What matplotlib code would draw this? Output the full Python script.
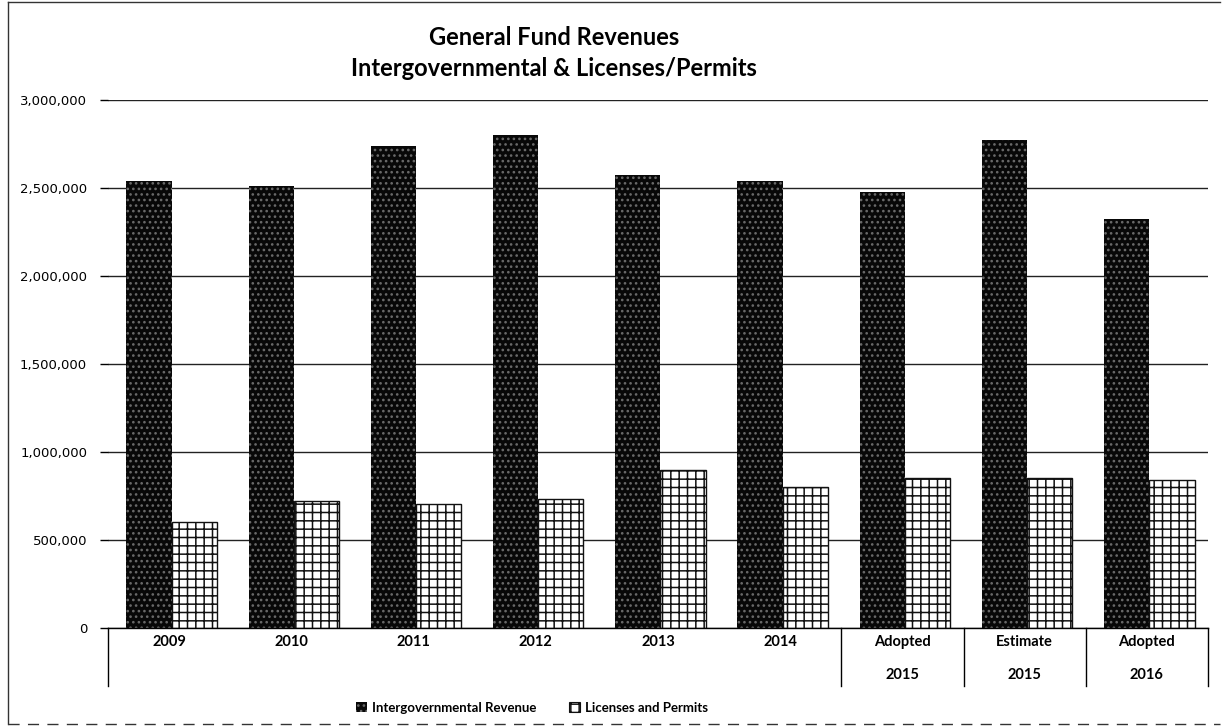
import matplotlib
matplotlib.use("Agg")
import matplotlib.pyplot as plt
from matplotlib.lines import Line2D
from matplotlib.patches import Patch
import numpy as np

plt.rcParams['hatch.linewidth'] = 1.1

# ---- data ----
level1 = ["2009", "2010", "2011", "2012", "2013", "2014", "Adopted", "Estimate", "Adopted"]
level2 = ["", "", "", "", "", "", "2015", "2015", "2016"]
intergov = [2540000, 2512000, 2740000, 2802000, 2574000, 2538000, 2480000, 2773000, 2322000]
licenses = [604000, 723000, 705000, 735000, 898000, 800000, 852000, 852000, 840000]
yticks = [0, 500000, 1000000, 1500000, 2000000, 2500000, 3000000]
title = "General Fund Revenues\nIntergovernmental & Licenses/Permits"
series_names = ["Intergovernmental Revenue", "Licenses and Permits"]

W, H = 1225, 728
fig = plt.figure(figsize=(W / 100, H / 100), dpi=100)
ax = fig.add_axes([108 / W, 1 - 628 / H, (1208 - 108) / W, (628 - 100) / H])

x = np.arange(len(level1))
bw = 0.37
ax.bar(x - bw / 2 + 0.02, intergov, width=bw, color="#080808", edgecolor="#6a6a6a",
       hatch="...", linewidth=0, zorder=3)
ax.bar(x + bw / 2 + 0.02, licenses, width=bw, color="white", edgecolor="#111111",
       hatch="++", linewidth=1.0, zorder=3)

ax.set_xlim(-0.5, len(level1) - 0.5)
ax.set_ylim(0, 3000000)
ax.set_yticks(yticks)
ax.set_yticklabels([f"{v:,}" for v in yticks], fontsize=9.5, family="DejaVu Sans")
ax.tick_params(axis="y", length=6, width=1, pad=9, colors="black")
ax.set_xticks([])
ax.yaxis.grid(True, color="#222222", linewidth=1.0, zorder=0)
for s in ["left", "right", "top"]:
    ax.spines[s].set_visible(False)
ax.spines["bottom"].set_linewidth(1.0)
ax.spines["bottom"].set_zorder(4)

# category table below the axis
trans = ax.get_xaxis_transform()
axh = 628 - 100
def dy(px):
    return -px / axh
for i, (a, b) in enumerate(zip(level1, level2)):
    ax.text(i, dy(14), a, transform=trans, ha="center", va="center",
            fontsize=10.5, family="Lato", fontweight="bold")
    if b:
        ax.text(i, dy(47), b, transform=trans, ha="center", va="center",
                fontsize=10.5, family="Lato", fontweight="bold")
for xb in [-0.5, 5.5, 6.5, 7.5, 8.5]:
    ax.add_line(Line2D([xb, xb], [0, dy(58)], transform=trans, color="black",
                       linewidth=1.0, clip_on=False))

fig.suptitle(title, x=554 / W, y=1 - 26 / H, va="top", fontsize=17, family="Lato",
             fontweight="bold", linespacing=1.4)

handles = [Patch(facecolor="#080808", edgecolor="#6a6a6a", hatch="...", linewidth=0),
           Patch(facecolor="white", edgecolor="#111111", hatch="++", linewidth=0.8)]
fig.legend(handles, series_names, loc="center", bbox_to_anchor=(532 / W, 1 - 708 / H),
           ncol=2, frameon=False, prop={"family": "Lato", "size": 9.5, "weight": "bold"},
           handlelength=0.8, handleheight=0.8, columnspacing=2.5, handletextpad=0.4)

# chart border
fig.add_artist(Line2D([8 / W, 1220 / W], [1 - 2 / H, 1 - 2 / H], transform=fig.transFigure,
                      color="#333333", linewidth=1))
fig.add_artist(Line2D([8 / W, 8 / W], [1 - 2 / H, 1 - 724 / H], transform=fig.transFigure,
                      color="#333333", linewidth=1))
fig.add_artist(Line2D([8 / W, 1220 / W], [1 - 724 / H, 1 - 724 / H], transform=fig.transFigure,
                      color="#333333", linewidth=1, linestyle=(0, (8, 6))))

fig.savefig("out.png", dpi=100)
